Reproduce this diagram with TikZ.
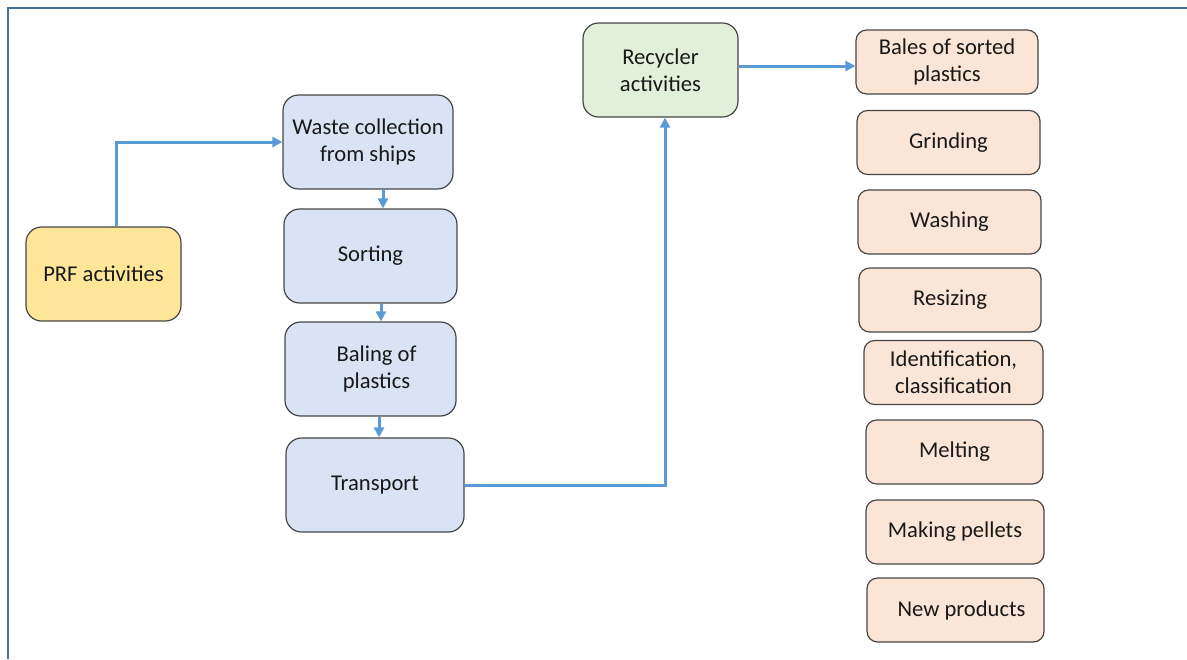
\documentclass[tikz,border=0pt]{standalone}
\usepackage{fontspec}
\setmainfont{Carlito}
\usepackage{tikz}
\usetikzlibrary{arrows.meta, positioning}

\definecolor{framec}{RGB}{65,113,156}
\definecolor{flowc}{RGB}{91,155,213}
\definecolor{edgec}{RGB}{70,70,70}
\definecolor{prfc}{RGB}{255,230,153}
\definecolor{shipc}{RGB}{218,227,243}
\definecolor{recc}{RGB}{226,239,218}
\definecolor{stepc}{RGB}{251,229,214}

\tikzset{
  box/.style = {draw=edgec, line width=0.6pt, align=center, text=black!90,
                font=\fontsize{11.3pt}{13.6pt}\selectfont, inner sep=1pt},
  bigbox/.style = {box, rounded corners=7.8pt, minimum height=47pt},
  smallbox/.style = {box, rounded corners=5.3pt, minimum height=32pt},
  flow/.style = {draw=flowc, line width=1.5pt, -{Triangle[length=5pt, width=5pt]}}
}

\begin{document}
\begin{tikzpicture} [node distance = 40pt, on grid]

\useasboundingbox (0pt,0pt) rectangle (593.5pt,-329.5pt);
\draw [framec, line width=1.2pt] (4pt,-329.5pt) -- (4pt,-4pt) -- (593.5pt,-4pt);

\node (prf) [bigbox, fill=prfc, minimum width=77.5pt] at (51.75pt,-137pt) {PRF activities};

% collection side
\node (wc) [bigbox, fill=shipc, minimum width=85pt] at (184pt,-71pt) {\raisebox{-2.5pt}{Waste collection}\\\raisebox{-2.5pt}{from ships}};
\node (sort) [bigbox, fill=shipc, minimum width=86.5pt, below right = 57pt and 1.25pt of wc] {Sorting};
\node (bal) [bigbox, fill=shipc, minimum width=85.5pt, below = 56.5pt of sort] {\hspace*{6pt}Baling of\\\hspace*{6pt}plastics};
\node (tr) [bigbox, fill=shipc, minimum width=89pt, below right = 58pt and 2.25pt of bal] {Transport};

% recycler side
\node (rec) [bigbox, fill=recc, minimum width=77.5pt] at (330.25pt,-35pt) {Recycler\\activities};

\node (bales) [smallbox, fill=stepc, minimum width=91pt] at (473.5pt,-31pt) {Bales of sorted\\plastics};
\node (grind) [smallbox, fill=stepc, minimum width=91.5pt, below right = 40.25pt and 0.75pt of bales] {Grinding};
\node (wash) [smallbox, fill=stepc, minimum width=91.5pt, below right = 39.75pt and 0.5pt of grind] {Washing};
\node (resz) [smallbox, fill=stepc, minimum width=91pt, below right = 39pt and 0.25pt of wash] {Resizing};
\node (ident) [smallbox, fill=stepc, minimum width=89.5pt, below right = 36.25pt and 1.75pt of resz] {Identification,\\classification};
\node (melt) [smallbox, fill=stepc, minimum width=88.5pt, below right = 39.75pt and 0.5pt of ident] {Melting};
\node (pell) [smallbox, fill=stepc, minimum width=89pt, below right = 40pt and 0.25pt of melt] {Making pellets};
\node (newp) [smallbox, fill=stepc, minimum width=88.5pt, below right = 39pt and 0.25pt of pell] {\hspace*{6pt}New products};

\draw [flow] ([xshift=6.25pt]prf.north) |- (wc.west);
\draw [flow] ([xshift=7.5pt]wc.south) -- ([xshift=7.5pt]wc.south |- sort.north);
\draw [flow] ([xshift=5.25pt]sort.south) -- ([xshift=5.25pt]sort.south |- bal.north);
\draw [flow] ([xshift=4.25pt]bal.south) -- ([xshift=4.25pt]bal.south |- tr.north);
\draw [flow] (tr.east) -| ([xshift=2.25pt]rec.south);
\draw [flow] ([yshift=2pt]rec.east) -- ([yshift=-2pt]bales.west);

\end{tikzpicture}
\end{document}
